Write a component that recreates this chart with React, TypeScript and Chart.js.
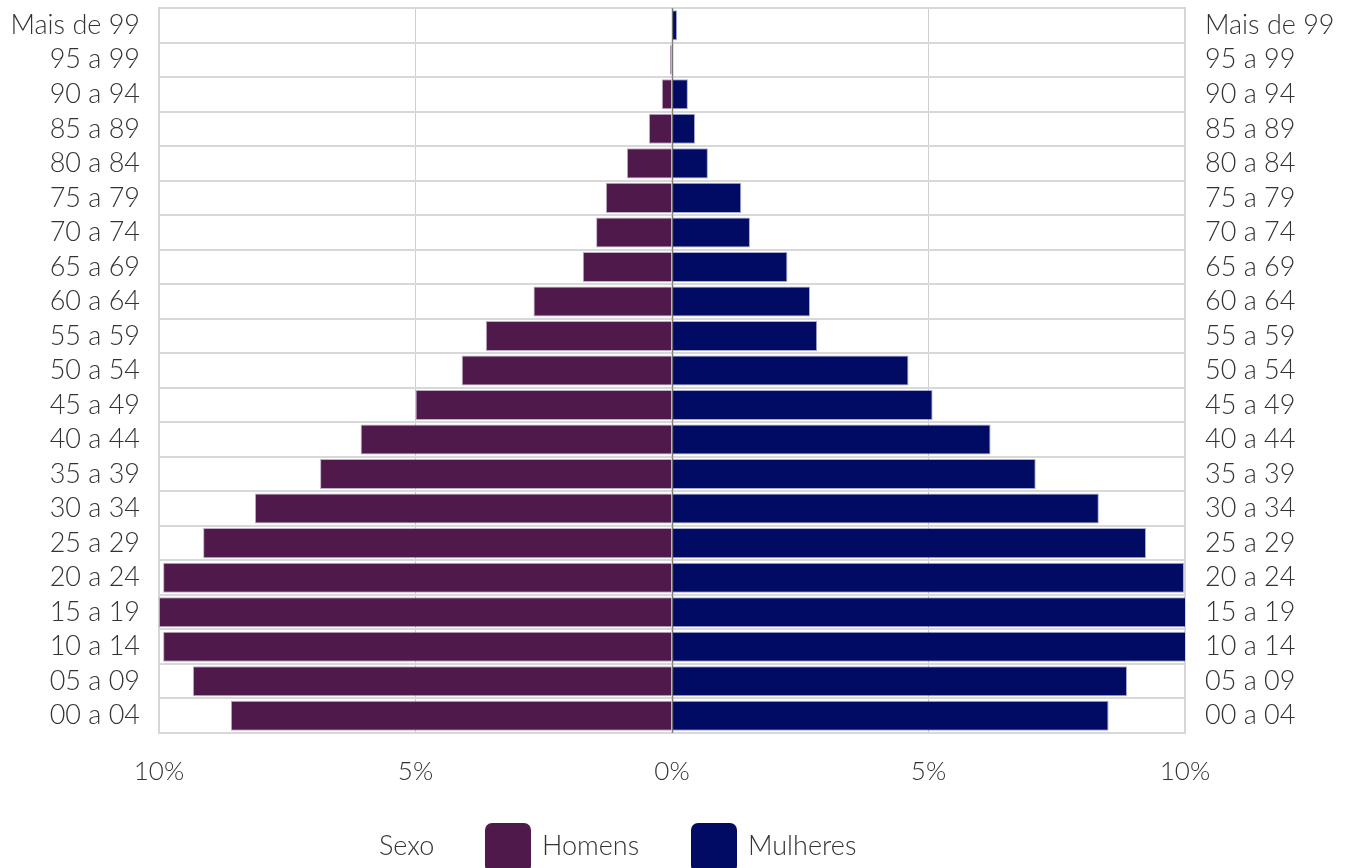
import React, { useEffect, useRef } from "react";
import { Chart, registerables } from "chart.js";

Chart.register(...registerables);

const categories = [
  "Mais de 99", "95 a 99", "90 a 94", "85 a 89", "80 a 84", "75 a 79", "70 a 74",
  "65 a 69", "60 a 64", "55 a 59", "50 a 54", "45 a 49", "40 a 44", "35 a 39",
  "30 a 34", "25 a 29", "20 a 24", "15 a 19", "10 a 14", "05 a 09", "00 a 04",
];

const homens = [
  0.01, 0.04, 0.2, 0.45, 0.88, 1.29, 1.48, 1.74, 2.7, 3.63, 4.1, 5.0, 6.07, 6.86,
  8.13, 9.14, 9.92, 10.0, 9.92, 9.34, 8.6,
];

const mulheres = [
  0.1, 0.0, 0.31, 0.45, 0.7, 1.35, 1.52, 2.25, 2.69, 2.83, 4.61, 5.08, 6.21, 7.09,
  8.32, 9.24, 9.98, 10.2, 10.1, 8.87, 8.51,
];

const xTicks = [-10, -5, 0, 5, 10];

const COLOR_H = "#4f1a4b";
const COLOR_M = "#020b63";
const FONT = "Lato, 'Open Sans', sans-serif";

const zeroLinePlugin = {
  id: "zeroLine",
  afterDatasetsDraw(chart: any) {
    const { ctx, chartArea, scales } = chart;
    const x = Math.round(scales.x.getPixelForValue(0)) + 0.5;
    ctx.save();
    ctx.strokeStyle = "rgba(110,110,110,0.75)";
    ctx.lineWidth = 1.5;
    ctx.beginPath();
    ctx.moveTo(x, chartArea.top);
    ctx.lineTo(x, chartArea.bottom);
    ctx.stroke();
    ctx.restore();
  },
};

export default function App() {
  const ref = useRef<HTMLCanvasElement>(null);

  useEffect(() => {
    if (!ref.current) return;
    const zeroPad = (axis: any, w: number) => {
      axis.width = w;
      axis.paddingTop = 0;
      axis.paddingBottom = 0;
    };
    const chart = new Chart(ref.current, {
      type: "bar",
      plugins: [zeroLinePlugin],
      data: {
        labels: categories,
        datasets: [
          {
            label: "Homens",
            data: homens.map((v) => -v),
            backgroundColor: COLOR_H,
            borderColor: "rgba(150,120,160,0.6)",
            borderWidth: 1,
            barPercentage: 0.87,
            categoryPercentage: 1,
            yAxisID: "y",
          },
          {
            label: "Mulheres",
            data: mulheres,
            backgroundColor: COLOR_M,
            borderColor: "rgba(110,115,180,0.6)",
            borderWidth: 1,
            barPercentage: 0.87,
            categoryPercentage: 1,
            yAxisID: "y",
          },
        ],
      },
      options: {
        indexAxis: "y",
        responsive: false,
        animation: false,
        maintainAspectRatio: false,
        layout: { padding: { top: 8, left: 0, right: 0, bottom: 0 } },
        plugins: {
          legend: { display: false },
          tooltip: { enabled: false },
        },
        scales: {
          x: {
            type: "linear",
            stacked: true,
            min: -10,
            max: 10,
            afterBuildTicks: (axis: any) => {
              axis.ticks = xTicks.map((v) => ({ value: v }));
            },
            afterFit: (axis: any) => {
              axis.height = 135;
            },
            grid: {
              drawTicks: false,
              color: (ctx: any) => (ctx.tick && ctx.tick.value === 0 ? "#8a8a8a" : "#cfcfcf"),
              lineWidth: 1,
            },
            border: { display: false },
            ticks: {
              padding: 23,
              color: "#333",
              font: { family: FONT, size: 26, weight: "300" as any },
              callback: (v: any) => Math.abs(Number(v)) + "%",
            },
          },
          y: {
            type: "category",
            stacked: true,
            position: "left",
            afterFit: (axis: any) => zeroPad(axis, 159),
            grid: {
              offset: true,
              drawTicks: false,
              color: "#d8d8d8",
              lineWidth: 2,
            },
            border: { display: true, color: "#d6d6d6", width: 2 },
            ticks: {
              autoSkip: false,
              padding: 19,
              color: "#333",
              font: { family: FONT, size: 27, weight: "300" as any },
            },
          },
          y2: {
            type: "category",
            position: "right",
            labels: categories,
            offset: true,
            afterFit: (axis: any) => zeroPad(axis, 166),
            grid: { display: false, drawTicks: false },
            border: { display: true, color: "#d6d6d6", width: 2 },
            ticks: {
              autoSkip: false,
              padding: 20,
              color: "#333",
              font: { family: FONT, size: 27, weight: "300" as any },
            },
          },
        },
      },
    });
    return () => chart.destroy();
  }, []);

  const legendText: React.CSSProperties = {
    fontFamily: FONT,
    fontWeight: 300,
    fontSize: 27,
    color: "#333",
    position: "absolute",
    top: 829,
    lineHeight: "32px",
    whiteSpace: "nowrap",
  };
  const box: React.CSSProperties = {
    position: "absolute",
    top: 823,
    width: 46,
    height: 50,
    borderRadius: 7,
  };

  return (
    <div
      style={{
        position: "fixed",
        left: 0,
        top: 0,
        width: 1351,
        height: 868,
        overflow: "hidden",
        background: "#fff",
      }}
    >
      <canvas ref={ref} width={1351} height={868} style={{ display: "block" }} />
      <div style={{ ...legendText, left: 379 }}>Sexo</div>
      <div style={{ ...box, left: 485, background: COLOR_H }} />
      <div style={{ ...legendText, left: 542 }}>Homens</div>
      <div style={{ ...box, left: 691, background: COLOR_M }} />
      <div style={{ ...legendText, left: 748 }}>Mulheres</div>
    </div>
  );
}
